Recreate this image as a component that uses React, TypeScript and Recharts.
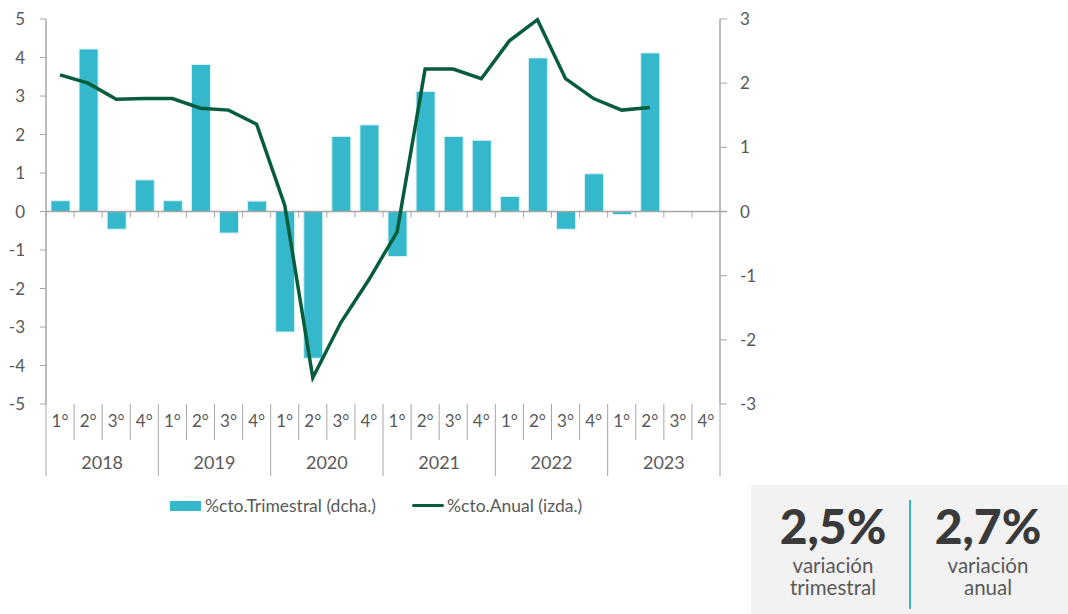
import React from "react";
import {
  ComposedChart,
  Bar,
  Line,
  XAxis,
  YAxis,
  ReferenceLine,
} from "recharts";

// Quarterly and annual growth, 2018–2023
const years = ["2018", "2019", "2020", "2021", "2022", "2023"];
const quarterLabels = ["1°", "2°", "3°", "4°"];

const trimestral: (number | null)[] = [
  0.28, 4.22, -0.46, 0.82,
  0.28, 3.82, -0.56, 0.27,
  -3.13, -3.81, 1.95, 2.25,
  -1.17, 3.12, 1.95, 1.85,
  0.39, 3.99, -0.46, 0.98,
  -0.08, 4.12, null, null,
];

const anual: (number | null)[] = [
  2.13, 2.0, 1.75, 1.76,
  1.76, 1.61, 1.58, 1.36,
  0.1, -2.59, -1.73, -1.06,
  -0.32, 2.22, 2.22, 2.07,
  2.66, 2.99, 2.07, 1.76,
  1.58, 1.62, null, null,
];

const leftTicks = [5, 4, 3, 2, 1, 0, -1, -2, -3, -4, -5];
const rightTicks = [3, 2, 1, 0, -1, -2, -3];

const summary = [
  { value: "2,5%", lines: ["variación", "trimestral"] },
  { value: "2,7%", lines: ["variación", "anual"] },
];

const data = years.flatMap((year, yi) =>
  quarterLabels.map((q, qi) => ({
    key: `${year}-${q}`,
    q,
    year,
    trimestral: trimestral[yi * 4 + qi],
    anual: anual[yi * 4 + qi],
  }))
);

const FONT = "Lato, 'Noto Sans', sans-serif";
const TEXT = "#595959";
const GRID = "#a6a6a6";
const BAR = "#35b8cb";
const LINE = "#075c3b";

const W = 780;
const H = 540;
const MARGIN = { top: 19, right: 10, left: 6, bottom: 64 };

// quarter labels, year labels and the separators under the plot
const QuarterTick = (props: any) => {
  const { x, y, payload } = props;
  const idx = payload?.index ?? props.index ?? 0;
  const half = payload?.offset ?? 14;
  const left = x - half;
  const right = x + half;
  const item = data[idx];
  return (
    <g>
      <line
        x1={left}
        x2={left}
        y1={y}
        y2={idx % 4 === 0 ? y + 72 : y + 36}
        stroke={GRID}
        strokeWidth={1}
      />
      {idx === data.length - 1 && (
        <line x1={right} x2={right} y1={y} y2={y + 72} stroke={GRID} strokeWidth={1} />
      )}
      <text
        x={x}
        y={y + 23}
        textAnchor="middle"
        fill={TEXT}
        fontSize={17}
        fontFamily={FONT}
      >
        {item?.q}
      </text>
      {idx % 4 === 1 && (
        <text
          x={right}
          y={y + 65}
          textAnchor="middle"
          fill={TEXT}
          fontSize={18}
          fontFamily={FONT}
        >
          {item?.year}
        </text>
      )}
    </g>
  );
};

// zero line with small category ticks
const ZeroLine = (props: any) => {
  const { x1, x2, y1 } = props;
  const n = data.length;
  const step = (x2 - x1) / n;
  return (
    <g>
      <line x1={x1} x2={x2 + 7} y1={y1} y2={y1} stroke={GRID} strokeWidth={1.5} />
      {data.map((d, i) => (
        <line
          key={d.key}
          x1={x1 + step * i}
          x2={x1 + step * i}
          y1={y1}
          y2={y1 + 6}
          stroke={GRID}
          strokeWidth={1}
        />
      ))}
    </g>
  );
};

const Legend = () => (
  <div
    style={{
      position: "absolute",
      left: 170,
      top: 495,
      display: "flex",
      alignItems: "center",
      fontFamily: FONT,
      fontSize: 17.5,
      color: TEXT,
      whiteSpace: "nowrap",
    }}
  >
    <span style={{ width: 31, height: 10, background: BAR, display: "inline-block" }} />
    <span style={{ marginLeft: 4 }}>%cto.Trimestral (dcha.)</span>
    <span
      style={{
        width: 32,
        height: 3,
        background: LINE,
        display: "inline-block",
        marginLeft: 36,
        borderRadius: 2,
      }}
    />
    <span style={{ marginLeft: 3 }}>%cto.Anual (izda.)</span>
  </div>
);

const SummaryBox = () => (
  <div
    style={{
      position: "absolute",
      left: 751,
      top: 485,
      width: 317,
      height: 129,
      background: "#f2f2f2",
    }}
  >
    <svg width={317} height={129}>
      {summary.map((s, i) => {
        const cx = i === 0 ? 82 : 237;
        return (
          <g key={s.value} fontFamily={FONT} textAnchor="middle">
            <text x={cx} y={59} fontSize={48} fontWeight={900} fill="#3a3a3a">
              {s.value}
            </text>
            <text x={cx} y={88} fontSize={20.5} fill={TEXT}>
              {s.lines[0]}
            </text>
            <text x={cx} y={110} fontSize={20.5} fill={TEXT}>
              {s.lines[1]}
            </text>
          </g>
        );
      })}
      <line x1={159} x2={159} y1={15} y2={124} stroke={BAR} strokeWidth={2} />
    </svg>
  </div>
);

export default function App() {
  return (
    <div
      style={{
        position: "absolute",
        left: 0,
        top: 0,
        width: 1068,
        height: 614,
        background: "#fff",
        fontFamily: FONT,
      }}
    >
      <ComposedChart width={W} height={H} data={data} margin={MARGIN}>
        <XAxis
          dataKey="key"
          xAxisId={0}
          interval={0}
          axisLine={false}
          tickLine={false}
          tickSize={0}
          tickMargin={0}
          height={72}
          tick={<QuarterTick />}
        />
        <YAxis
          yAxisId="left"
          orientation="left"
          domain={[-5, 5]}
          ticks={leftTicks}
          interval={0}
          width={40}
          axisLine={{ stroke: GRID, strokeWidth: 1.5 }}
          tickLine={{ stroke: GRID }}
          tickSize={6}
          tickMargin={15}
          tick={{ fill: TEXT, fontSize: 17, fontFamily: FONT }}
        />
        <YAxis
          yAxisId="right"
          orientation="right"
          domain={[-3, 3]}
          ticks={rightTicks}
          interval={0}
          width={50}
          axisLine={{ stroke: GRID, strokeWidth: 1.5 }}
          tickLine={{ stroke: GRID }}
          tickSize={7}
          tickMargin={13}
          tick={{ fill: TEXT, fontSize: 17, fontFamily: FONT, textAnchor: "start" }}
        />
        <Bar
          yAxisId="left"
          dataKey="trimestral"
          barSize={19}
          fill={BAR}
          stroke="#d6f1f5"
          strokeWidth={1}
          isAnimationActive={false}
        />
        <ReferenceLine yAxisId="left" y={0} shape={<ZeroLine />} />
        <Line
          yAxisId="right"
          dataKey="anual"
          type="linear"
          stroke={LINE}
          strokeWidth={3.5}
          dot={false}
          activeDot={false}
          isAnimationActive={false}
        />
      </ComposedChart>
      <Legend />
      <SummaryBox />
    </div>
  );
}
